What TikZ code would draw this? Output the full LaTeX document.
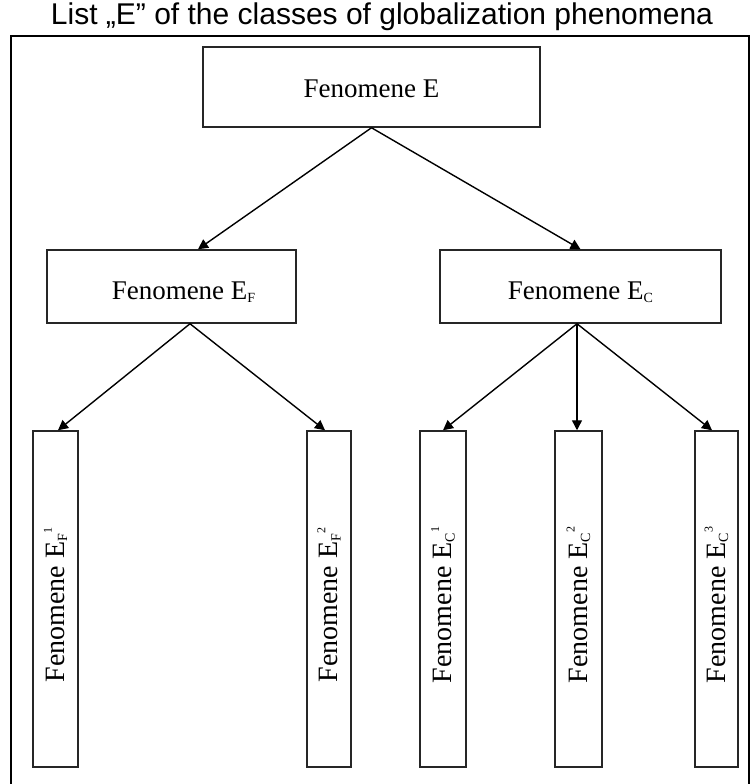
\documentclass[tikz,border=0pt]{standalone}
\usepackage{fontspec}
\setmainfont{Liberation Serif}
\newfontfamily\titlefont{Liberation Sans}
\usetikzlibrary{arrows.meta}
\newcommand\lowx[1]{\raisebox{-0.1em}{\fontsize{14}{14}\selectfont #1}}
\newcommand\highx[1]{\raisebox{0.45em}{\fontsize{12}{12}\selectfont #1}}
\begin{document}
\begin{tikzpicture}[x=1pt,y=-1pt,
  box/.style={draw=black!85, line width=1.5pt, inner sep=0pt, fill=white},
  lbl/.style={font=\fontsize{27}{29}\selectfont, inner sep=0pt},
  vlbl/.style={font=\fontsize{28}{30}\selectfont, rotate=90, inner sep=0pt},
  arr/.style={line width=1.4pt, -{Triangle[length=10pt,width=10pt]}},
]
\useasboundingbox (0,0) rectangle (750,784);
\node[font=\titlefont\fontsize{30}{32}\selectfont, inner sep=0pt] (title) at (382,17) {List „E” of the classes of globalization phenomena};
\draw[line width=2pt] (11,790) -- (11,36) -- (749,36) -- (749,790);

\node[box, minimum width=337pt, minimum height=80pt] (E) at (371.5,87) {};
\node[box, minimum width=249pt, minimum height=73pt] (EF) at (171.5,286.5) {};
\node[box, minimum width=281pt, minimum height=73pt] (EC) at (580.5,286.5) {};
\node[lbl] (Et) at ([yshift=-2pt]E.center) {Fenomene E};
\node[lbl] (EFt) at ([xshift=12pt,yshift=-6pt]EF.center) {Fenomene E\lowx{F}};
\node[lbl] (ECt) at ([yshift=-6pt]EC.center) {Fenomene E\lowx{C}};

\node[box, minimum width=45pt, minimum height=336pt] (B1) at (55.5,599) {};
\node[box, minimum width=44pt, minimum height=336pt] (B2) at (329,599) {};
\node[box, minimum width=46pt, minimum height=336pt] (B3) at (443,599) {};
\node[box, minimum width=47pt, minimum height=336pt] (B4) at (578.5,599) {};
\node[box, minimum width=43pt, minimum height=336pt] (B5) at (716.5,599) {};

\node[vlbl] (t1) at (55.5,605) {Fenomene E\lowx{F}\highx{1}};
\node[vlbl] (t2) at (329,605) {Fenomene E\lowx{F}\highx{2}};
\node[vlbl] (t3) at (443,605) {Fenomene E\lowx{C}\highx{1}};
\node[vlbl] (t4) at (578.5,605) {Fenomene E\lowx{C}\highx{2}};
\node[vlbl] (t5) at (716.5,605) {Fenomene E\lowx{C}\highx{3}};

\draw[arr] (E.south) -- ([xshift=26.5pt]EF.north);
\draw[arr] (E.south) -- (EC.north);
\draw[arr] ([xshift=18.5pt]EF.south) -- ([xshift=2.5pt]B1.north);
\draw[arr] ([xshift=18.5pt]EF.south) -- ([xshift=-4pt]B2.north);
\draw[arr] ([xshift=-3.5pt]EC.south) -- (B3.north);
\draw[arr] ([xshift=-3.5pt]EC.south) -- ([xshift=-1.5pt]B4.north);
\draw[arr] ([xshift=-3.5pt]EC.south) -- ([xshift=-4.5pt]B5.north);
\end{tikzpicture}
\end{document}
